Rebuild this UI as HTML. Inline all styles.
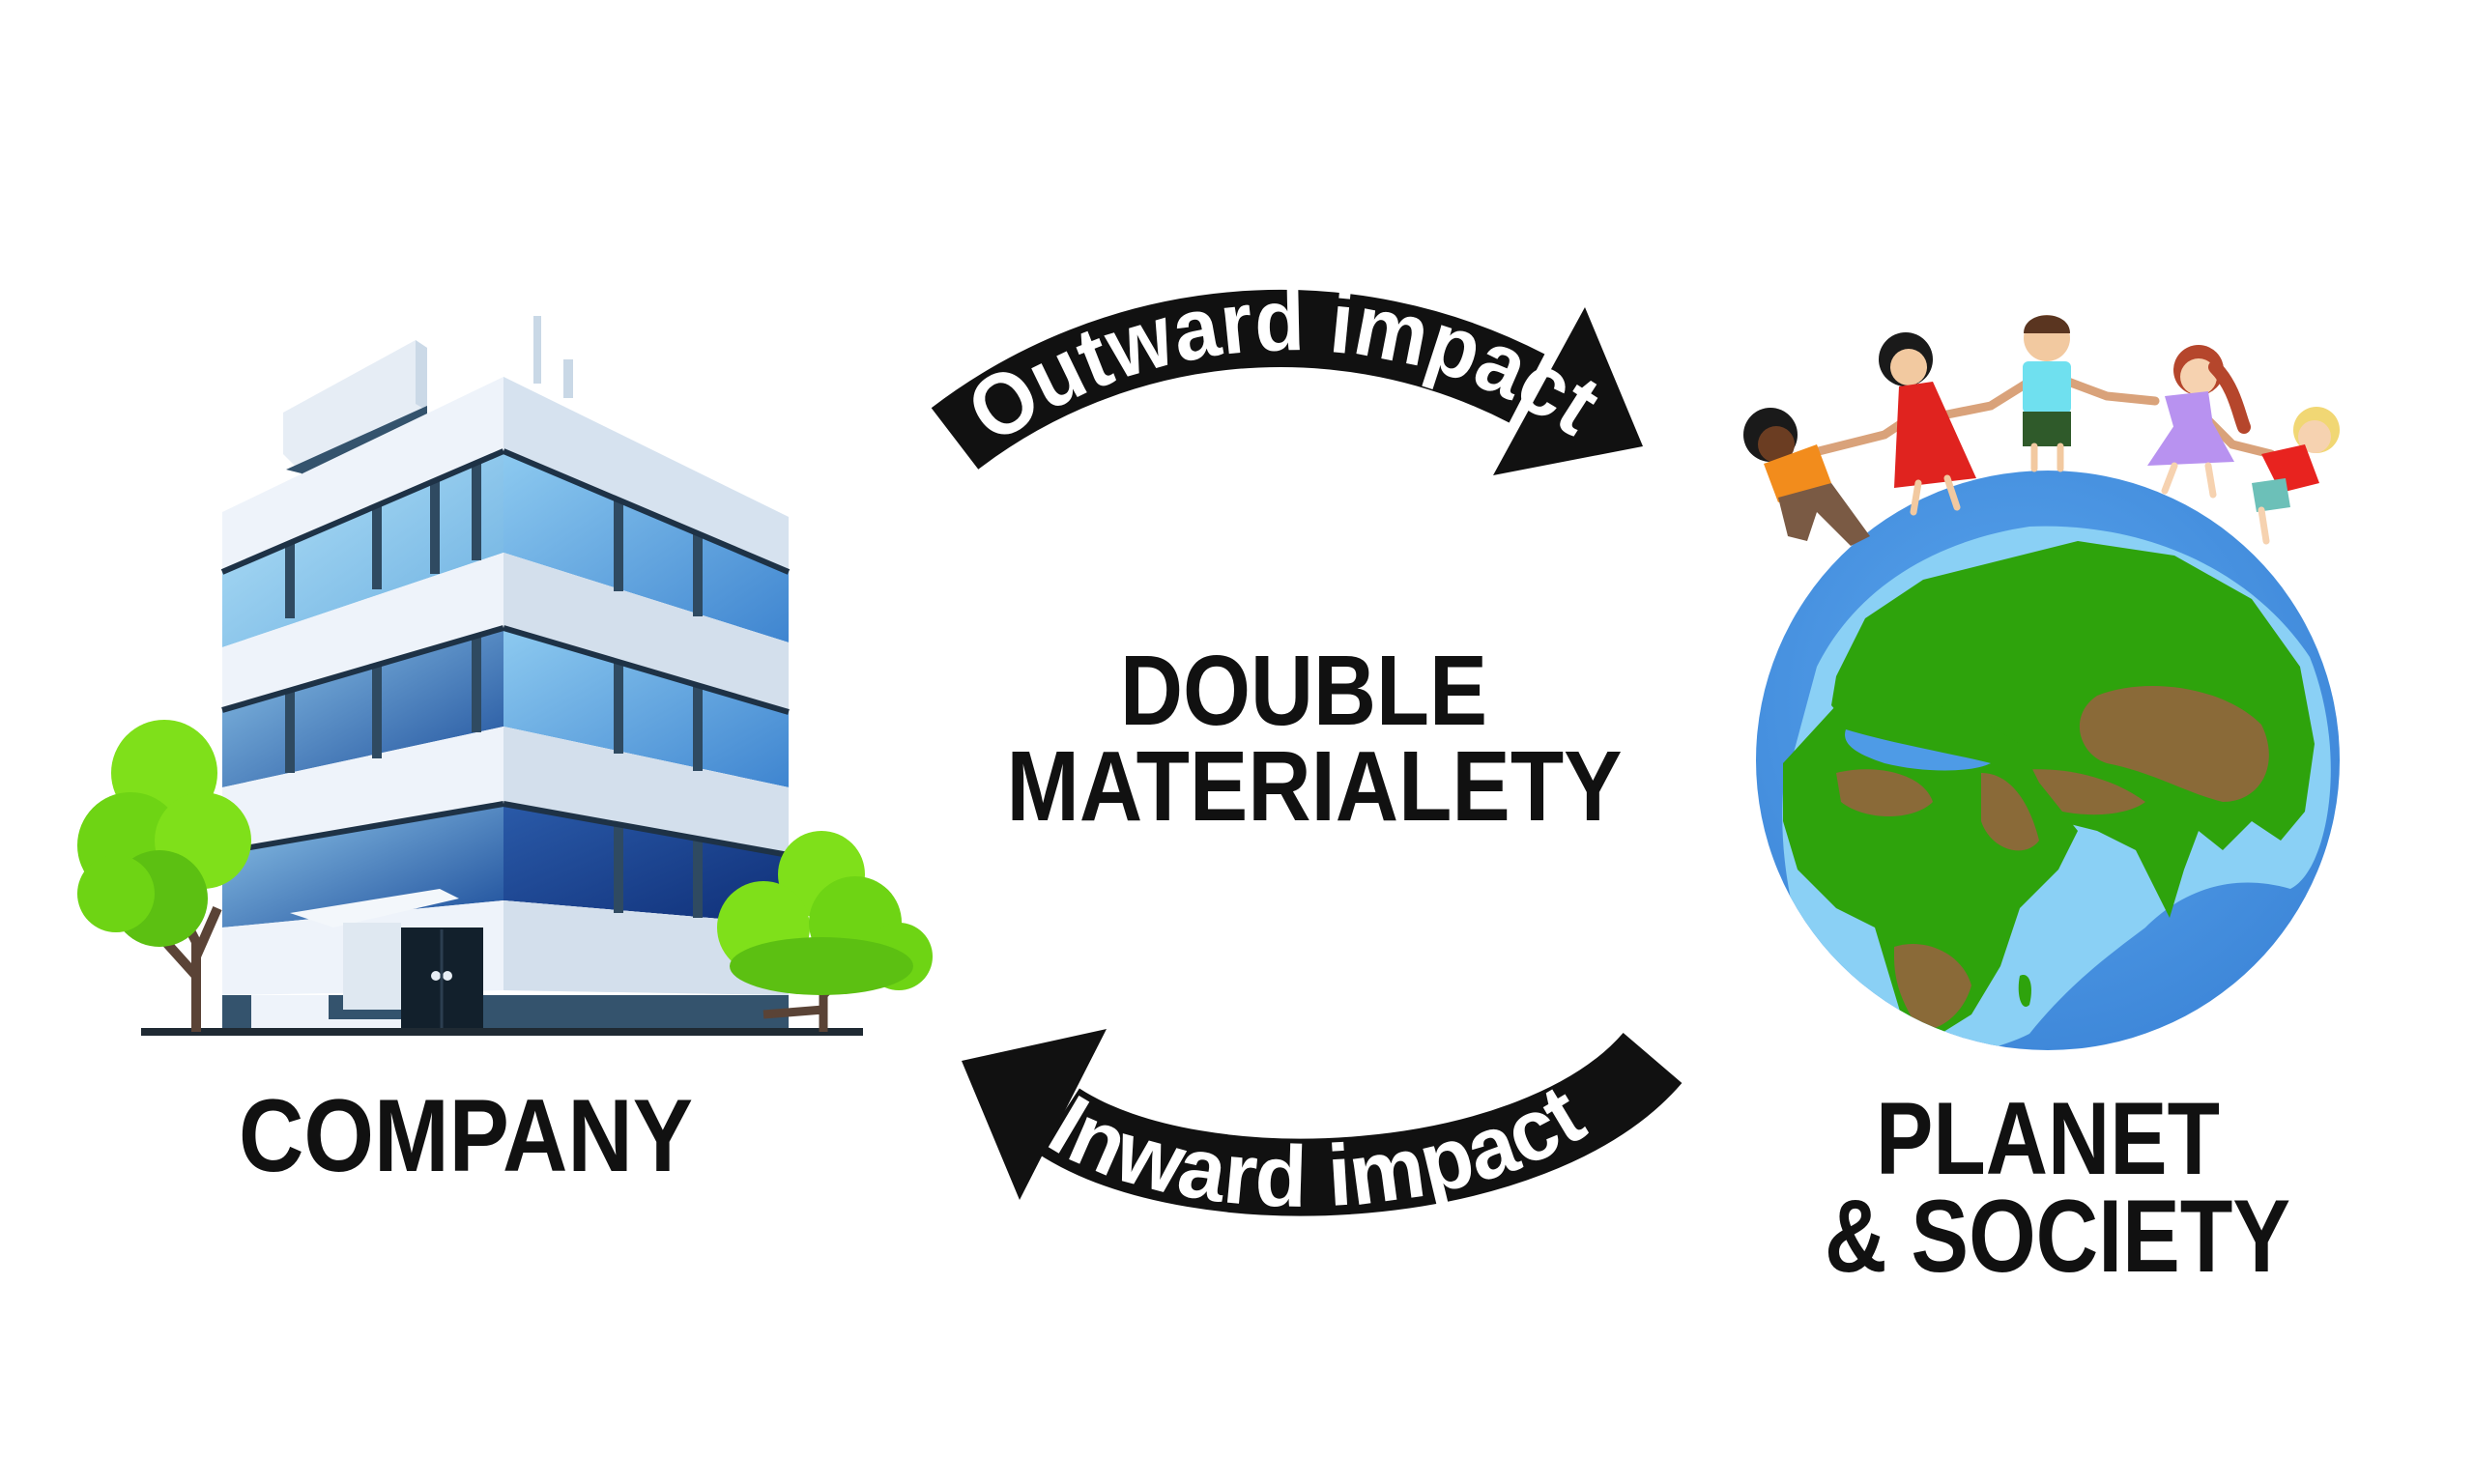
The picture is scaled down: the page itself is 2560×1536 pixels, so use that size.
<!DOCTYPE html>
<html><head><meta charset="utf-8"><style>
html,body{margin:0;padding:0;background:#fff;}
svg{display:block;}
text{font-family:"Liberation Sans",Arial,sans-serif;font-weight:bold;}
</style></head><body>
<svg width="2560" height="1536" viewBox="0 0 2560 1536" xmlns="http://www.w3.org/2000/svg">
<defs>
<linearGradient id="wl" x1="0" y1="0" x2="1" y2="1"><stop offset="0" stop-color="#b4e2f8"/><stop offset="1" stop-color="#6aaee0"/></linearGradient>
<linearGradient id="wl2" x1="0" y1="0" x2="1" y2="1"><stop offset="0" stop-color="#8fc6ea"/><stop offset="1" stop-color="#1c4d9a"/></linearGradient>
<linearGradient id="wr" x1="0" y1="0" x2="1" y2="1"><stop offset="0" stop-color="#8dcaf0"/><stop offset="1" stop-color="#3f85d0"/></linearGradient>
<linearGradient id="wr3" x1="0" y1="0" x2="1" y2="1"><stop offset="0" stop-color="#2a5aa8"/><stop offset="1" stop-color="#0f2f78"/></linearGradient>
<radialGradient id="gl" cx="0.45" cy="0.4" r="0.65"><stop offset="0" stop-color="#5aa6ee"/><stop offset="1" stop-color="#3d86d8"/></radialGradient>
<clipPath id="gc"><ellipse cx="2119" cy="787" rx="302" ry="300"/></clipPath>
</defs>

<!-- ================= BUILDING ================= -->
<g>
<rect x="552" y="327" width="8" height="70" fill="#c9d8e6"/>
<rect x="583" y="372" width="10" height="40" fill="#c9d8e6"/>
<polygon points="293,427 430,352 442,360 442,425 305,482 293,470" fill="#e6edf5"/>
<polygon points="430,352 442,360 442,425 430,418" fill="#cbd9e7"/>
<polygon points="296,486 442,420 442,432 320,490 320,500 312,500 312,490" fill="#34536d"/>
<polygon points="230,530 521,390 816,535 816,592 521,467 230,592" fill="#eef3fa"/>
<polygon points="521,390 816,535 816,592 521,467" fill="#d6e2ef"/>
<polygon points="230,592 521,467 521,572 230,670" fill="url(#wl)"/>
<polygon points="521,467 816,592 816,665 521,572" fill="url(#wr)"/>
<polygon points="230,670 521,572 816,665 816,737 521,650 230,735" fill="#eef3fa"/>
<polygon points="521,572 816,665 816,737 521,650" fill="#d3dfec"/>
<polygon points="230,735 521,650 521,752 230,815" fill="url(#wl2)"/>
<polygon points="521,650 816,737 816,815 521,752" fill="url(#wr)"/>
<polygon points="230,815 521,752 816,815 816,885 521,832 230,882" fill="#eef3fa"/>
<polygon points="521,752 816,815 816,885 521,832" fill="#d3dfec"/>
<polygon points="230,882 521,832 521,932 230,960" fill="url(#wl2)"/>
<polygon points="521,832 816,885 816,957 521,932" fill="url(#wr3)"/>
<polygon points="230,960 521,932 816,957 816,1030 521,1025 230,1030" fill="#eef3fa"/>
<polygon points="521,932 816,957 816,1030 521,1025" fill="#d3dfec"/>
<rect x="230" y="1030" width="586" height="40" fill="#34536d"/>
<polygon points="260,1030 340,1030 340,1055 440,1055 440,1030 470,1030 470,1070 260,1070" fill="#eef3fa"/>
<g stroke="#2f4a61" stroke-width="10">
<line x1="300" y1="562" x2="300" y2="640"/><line x1="390" y1="523" x2="390" y2="610"/><line x1="450" y1="497" x2="450" y2="594"/><line x1="493" y1="480" x2="493" y2="580"/>
<line x1="640" y1="517" x2="640" y2="612"/><line x1="722" y1="552" x2="722" y2="638"/>
<line x1="300" y1="715" x2="300" y2="800"/><line x1="390" y1="689" x2="390" y2="785"/><line x1="493" y1="660" x2="493" y2="758"/>
<line x1="640" y1="686" x2="640" y2="780"/><line x1="722" y1="711" x2="722" y2="798"/>
<line x1="640" y1="853" x2="640" y2="945"/><line x1="722" y1="868" x2="722" y2="950"/>
</g>
<g stroke="#1e3246" stroke-width="6">
<line x1="230" y1="592" x2="521" y2="467"/><line x1="521" y1="467" x2="816" y2="592"/>
<line x1="230" y1="735" x2="521" y2="650"/><line x1="521" y1="650" x2="816" y2="737"/>
<line x1="230" y1="882" x2="521" y2="832"/><line x1="521" y1="832" x2="816" y2="885"/>
</g>
<polygon points="300,945 455,920 475,930 345,960" fill="#f3f7fb"/>
<rect x="355" y="955" width="60" height="90" fill="#dfe8f1"/>
<rect x="415" y="960" width="85" height="110" fill="#12202c"/>
<circle cx="451" cy="1010" r="5" fill="#e8eef5"/><circle cx="463" cy="1010" r="5" fill="#e8eef5"/>
<line x1="457" y1="962" x2="457" y2="1068" stroke="#2c3e50" stroke-width="3"/>
<rect x="146" y="1064" width="747" height="8" fill="#1f2a33"/>
</g>

<!-- trees -->
<g>
<path d="M203,1068 L203,975 L180,930 M203,990 L225,940 M203,1010 L158,960" stroke="#5a4336" stroke-width="10" fill="none"/>
<circle cx="170" cy="800" r="55" fill="#7fe01a"/>
<circle cx="135" cy="875" r="55" fill="#6ed414"/>
<circle cx="210" cy="870" r="50" fill="#7fe01a"/>
<circle cx="165" cy="930" r="50" fill="#5cc012"/>
<circle cx="120" cy="925" r="40" fill="#6ed414"/>
<path d="M852,1068 L852,1010 L815,970 M852,1030 L890,990 M852,1045 L790,1050" stroke="#5a4336" stroke-width="9" fill="none"/>
<circle cx="850" cy="905" r="45" fill="#7fe01a"/>
<circle cx="790" cy="960" r="48" fill="#7fe01a"/>
<circle cx="885" cy="955" r="48" fill="#6ed414"/>
<circle cx="930" cy="990" r="35" fill="#6ed414"/>
<ellipse cx="850" cy="1000" rx="95" ry="30" fill="#5cc012"/>
</g>

<!-- ================= ARROWS ================= -->
<path d="M 988 454 A 555 555 0 0 1 1580 402" fill="none" stroke="#111" stroke-width="80"/>
<polygon points="1640,318 1700,462 1545,492" fill="#111"/>
<path id="outt" d="M 1028 462 A 523 523 0 0 1 1632 455" fill="none"/>
<text font-size="90" fill="#fff"><textPath href="#outt" textLength="640" lengthAdjust="spacingAndGlyphs">Outward impact</textPath></text>

<path d="M 1710 1095 C 1590 1235, 1240 1255, 1095 1160" fill="none" stroke="#111" stroke-width="80"/>
<polygon points="1145,1065 995,1098 1055,1242" fill="#111"/>
<path id="int" d="M 1080 1184 C 1235 1286, 1580 1268, 1700 1124" fill="none"/>
<text font-size="90" fill="#fff"><textPath href="#int" textLength="590" lengthAdjust="spacingAndGlyphs">Inward impact</textPath></text>

<!-- ================= TEXT ================= -->
<text x="1349" y="750" font-size="103" fill="#111" text-anchor="middle" textLength="380" lengthAdjust="spacingAndGlyphs">DOUBLE</text>
<text x="1360" y="849" font-size="103" fill="#111" text-anchor="middle" textLength="637" lengthAdjust="spacingAndGlyphs">MATERIALETY</text>
<text x="482" y="1212" font-size="107" fill="#111" text-anchor="middle" textLength="470" lengthAdjust="spacingAndGlyphs">COMPANY</text>
<text x="2119" y="1215" font-size="107" fill="#111" text-anchor="middle" textLength="356" lengthAdjust="spacingAndGlyphs">PLANET</text>
<text x="2129" y="1316" font-size="107" fill="#111" text-anchor="middle" textLength="482" lengthAdjust="spacingAndGlyphs">&amp; SOCIETY</text>

<!-- ================= GLOBE ================= -->
<ellipse cx="2119" cy="787" rx="302" ry="300" fill="url(#gl)"/>
<g clip-path="url(#gc)">
<path d="M1880,690 C1920,610 2000,560 2100,545 C2220,540 2330,590 2390,680 C2430,780 2410,900 2370,920 C2300,900 2250,930 2220,960 C2180,990 2140,1020 2100,1070 C2040,1100 1960,1100 1900,1050 C1860,990 1840,900 1845,820 Z" fill="#8ad0f5"/>
<!-- Eurasia -->
<path d="M1900,700 L1930,640 L1990,600 L2070,580 L2150,560 L2250,575 L2330,620 L2380,690 L2395,770 L2385,840 L2360,870 L2330,850 L2300,880 L2275,860 L2260,900 L2245,950 L2230,920 L2210,880 L2170,860 L2130,850 L2100,820 L2060,800 L2000,790 L1960,775 L1920,760 L1895,730 Z" fill="#2ea30c"/>
<path d="M2170,720 C2220,700 2300,710 2340,750 C2360,790 2340,830 2300,830 C2260,820 2230,800 2180,790 C2150,780 2140,740 2170,720 Z" fill="#8a6a38"/>
<path d="M2070,800 C2120,790 2180,800 2220,830 C2200,845 2150,850 2100,830 Z" fill="#8a6a38"/>
<!-- Africa -->
<path d="M1845,790 L1900,730 L1990,725 L2050,745 L2090,770 L2110,810 L2150,860 L2130,900 L2090,940 L2070,1000 L2040,1050 L2000,1075 L1970,1060 L1955,1010 L1940,960 L1900,940 L1860,900 L1845,850 Z" fill="#2ea30c"/>
<path d="M1900,800 C1940,790 1990,800 2000,830 C1980,850 1930,850 1905,830 Z" fill="#8a6a38"/>
<path d="M2050,800 C2080,800 2100,830 2110,870 C2095,890 2060,880 2050,850 Z" fill="#8a6a38"/>
<path d="M1960,980 C1990,970 2030,985 2040,1020 C2030,1055 2000,1070 1985,1065 C1970,1040 1960,1020 1960,990 Z" fill="#8a6a38"/>
<path d="M2090,1010 C2100,1005 2105,1020 2100,1040 C2092,1048 2086,1030 2090,1010 Z" fill="#2ea30c"/>
<path d="M1910,755 C1960,770 2020,780 2060,790 C2040,800 1990,800 1950,790 C1920,780 1905,770 1910,755 Z" fill="#4e9be6"/>
</g>

<!-- ================= CHILDREN ================= -->
<g stroke-linecap="round">
<path d="M1870,470 L1950,450 L1980,430 M2010,430 L2060,420 L2100,395 M2140,395 L2180,410 L2230,415 M2270,420 L2310,460 L2350,470" stroke="#d9a27a" stroke-width="9" fill="none"/>
<circle cx="1832" cy="450" r="28" fill="#1a1a1a"/>
<circle cx="1838" cy="460" r="19" fill="#6b3d22"/>
<polygon points="1825,480 1880,460 1895,500 1840,520" fill="#f28c1c"/>
<polygon points="1840,515 1895,500 1935,555 1915,565 1880,530 1870,560 1850,555" fill="#7a5a44"/>
<circle cx="1972" cy="372" r="28" fill="#1a1a1a"/>
<circle cx="1975" cy="380" r="19" fill="#f2c9a0"/>
<polygon points="1965,400 2000,395 2045,495 1960,505" fill="#e0231f"/>
<path d="M1985,500 L1980,530 M2015,495 L2025,525" stroke="#f2c9a0" stroke-width="7"/>
<circle cx="2118" cy="350" r="24" fill="#f2c9a0"/>
<path d="M2094,345 C2094,320 2142,320 2142,345 Z" fill="#5a3520"/>
<rect x="2093" y="374" width="50" height="54" rx="6" fill="#6fe0ef"/>
<rect x="2093" y="426" width="50" height="36" fill="#2f5a2a"/>
<path d="M2105,462 L2105,485 M2132,462 L2132,485" stroke="#f2c9a0" stroke-width="7"/>
<circle cx="2275" cy="383" r="26" fill="#b5462c"/>
<circle cx="2275" cy="390" r="19" fill="#f6d2b0"/>
<path d="M2292,380 C2312,400 2317,430 2322,442" stroke="#b5462c" stroke-width="14" fill="none"/>
<polygon points="2240,410 2285,405 2290,440 2250,445" fill="#b892f0"/>
<polygon points="2250,440 2290,438 2312,478 2222,482" fill="#b892f0"/>
<path d="M2250,482 L2240,508 M2285,482 L2290,512" stroke="#f6d2b0" stroke-width="7"/>
<circle cx="2397" cy="445" r="24" fill="#f1d774"/>
<circle cx="2395" cy="452" r="17" fill="#f6d2b0"/>
<polygon points="2340,470 2385,460 2400,500 2360,510" fill="#e8231f"/>
<polygon points="2330,500 2365,495 2370,525 2335,530" fill="#6cc0b8"/>
<path d="M2340,528 L2345,560" stroke="#f6d2b0" stroke-width="7"/>
</g>
</svg>
</body></html>
